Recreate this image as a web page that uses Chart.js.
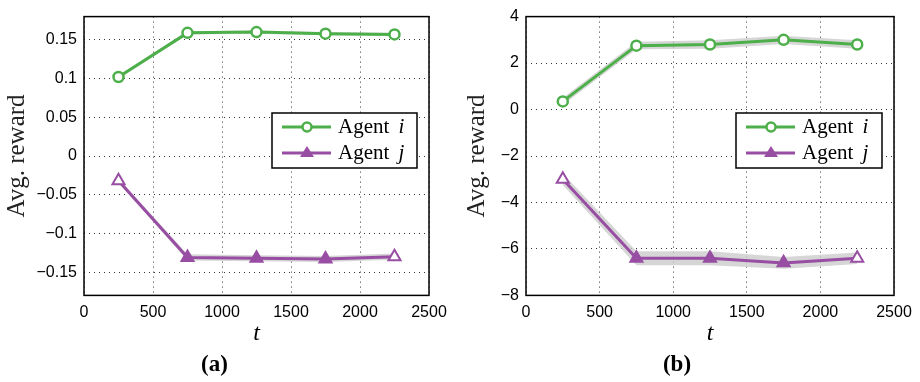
<!DOCTYPE html>
<html>
<head>
<meta charset="utf-8">
<script src="https://cdn.jsdelivr.net/npm/chart.js@4/dist/chart.umd.min.js"></script>
<style>
  body { margin: 0; background: #fff; }
  .wrap { display: flex; width: 920px; height: 382px; }
  .box { position: relative; width: 460px; height: 382px; }
</style>
</head>
<body>
<div class="wrap">
  <div class="box"><canvas id="chartA"></canvas></div>
  <div class="box"><canvas id="chartB"></canvas></div>
</div>
<script>
const xSteps = [250, 750, 1250, 1750, 2250];
const xTicks = [0, 500, 1000, 1500, 2000, 2500];

// panel (a)
const agentIA = [0.102, 0.159, 0.160, 0.158, 0.157];
const agentIALow = [0.100, 0.157, 0.158, 0.156, 0.155];
const agentIAHigh = [0.104, 0.161, 0.162, 0.160, 0.159];
const agentJA = [-0.032, -0.131, -0.132, -0.133, -0.130];
const agentJALow = [-0.035, -0.135, -0.136, -0.137, -0.134];
const agentJAHigh = [-0.029, -0.127, -0.128, -0.129, -0.126];
const yTicksA = [-0.15, -0.1, -0.05, 0, 0.05, 0.1, 0.15];

// panel (b)
const agentIB = [0.35, 2.75, 2.8, 3.0, 2.8];
const agentIBLow = [0.2, 2.6, 2.62, 2.82, 2.62];
const agentIBHigh = [0.5, 2.92, 2.98, 3.18, 2.98];
const agentJB = [-3.0, -6.4, -6.4, -6.6, -6.4];
const agentJBLow = [-3.25, -6.7, -6.7, -6.85, -6.65];
const agentJBHigh = [-2.75, -6.1, -6.1, -6.35, -6.15];
const yTicksB = [-8, -6, -4, -2, 0, 2, 4];

const green = "#4daf4a";
const purple = "#984ea3";
const band = "rgba(200,200,200,0.75)";
const serif = "'Liberation Serif', 'DejaVu Serif', serif";
const sans = "'Liberation Sans', Arial, sans-serif";

function pts(ys) {
  return ys.map((y, i) => ({ x: xSteps[i], y: y }));
}

function fmt(v) {
  return String(v).replace("-", "\u2212");
}

// frame round the plot area + in-plot legend
const framePlugin = {
  id: "frame",
  afterDraw(chart, args, opts) {
    const a = chart.chartArea;
    const ctx = chart.ctx;
    ctx.save();
    ctx.strokeStyle = "#000";
    ctx.lineWidth = 1.5;
    ctx.strokeRect(a.left, a.top, a.right - a.left, a.bottom - a.top);

    // legend
    const lx = opts.x, ly = opts.y, lw = opts.w, lh = opts.h;
    ctx.fillStyle = "#fff";
    ctx.fillRect(lx, ly, lw, lh);
    ctx.lineWidth = 1.5;
    ctx.strokeRect(lx, ly, lw, lh);
    const rows = [
      { color: green, style: "circle", name: "i" },
      { color: purple, style: "triangle", name: "j" },
    ];
    rows.forEach((r, k) => {
      const cy = ly + 14 + k * 26;
      ctx.strokeStyle = r.color;
      ctx.lineWidth = 3;
      ctx.beginPath();
      ctx.moveTo(lx + 10, cy);
      ctx.lineTo(lx + 59, cy);
      ctx.stroke();
      const mx = lx + 35;
      if (r.style === "circle") {
        ctx.fillStyle = "#fff";
        ctx.lineWidth = 2.5;
        ctx.beginPath();
        ctx.arc(mx, cy, 4.5, 0, Math.PI * 2);
        ctx.fill();
        ctx.stroke();
      } else {
        ctx.fillStyle = r.color;
        ctx.beginPath();
        ctx.moveTo(mx, cy - 7);
        ctx.lineTo(mx + 7, cy + 4);
        ctx.lineTo(mx - 7, cy + 4);
        ctx.closePath();
        ctx.fill();
      }
      ctx.fillStyle = "#000";
      ctx.textBaseline = "middle";
      ctx.textAlign = "left";
      ctx.font = "21px " + serif;
      ctx.fillText("Agent", lx + 66, cy);
      const w = ctx.measureText("Agent ").width;
      ctx.font = "italic 21px " + serif;
      ctx.fillText(r.name, lx + 66 + w + 4, cy);
    });
    ctx.restore();
  },
};

function makeChart(id, cfg) {
  const endBg = (c) => xSteps.map((x, i) => (i === 0 || i === xSteps.length - 1 ? "#fff" : c));
  new Chart(document.getElementById(id), {
    type: "line",
    data: {
      datasets: [
        { data: pts(cfg.iLow), borderWidth: 0, pointRadius: 0, fill: false, order: 2 },
        { data: pts(cfg.iHigh), borderWidth: 0, pointRadius: 0, fill: "-1", backgroundColor: band, order: 2 },
        { data: pts(cfg.jLow), borderWidth: 0, pointRadius: 0, fill: false, order: 2 },
        { data: pts(cfg.jHigh), borderWidth: 0, pointRadius: 0, fill: "-1", backgroundColor: band, order: 2 },
        {
          label: "Agent i",
          data: pts(cfg.i),
          order: 0,
          borderColor: green,
          borderWidth: 3,
          pointStyle: "circle",
          pointRadius: 5,
          pointBorderWidth: 2.5,
          pointBackgroundColor: "#fff",
          pointBorderColor: green,
        },
        {
          label: "Agent j",
          data: pts(cfg.j),
          order: 0,
          borderColor: purple,
          borderWidth: 3,
          pointStyle: "triangle",
          pointRadius: 7,
          pointBorderWidth: 2,
          pointBackgroundColor: endBg(purple),
          pointBorderColor: purple,
        },
      ],
    },
    options: {
      responsive: true,
      maintainAspectRatio: false,
      animation: false,
      layout: { padding: { left: 0, right: cfg.padRight, top: 9, bottom: 2 } },
      plugins: {
        legend: { display: false },
        tooltip: { enabled: false },
        title: {
          display: true,
          position: "bottom",
          text: cfg.title,
          color: "#000",
          font: { family: serif, size: 23, weight: "bold" },
          padding: { top: 0, bottom: 1 },
        },
        frame: cfg.legend,
      },
      scales: {
        x: {
          type: "linear",
          min: 0,
          max: 2500,
          afterBuildTicks: (s) => { s.ticks = xTicks.map((v) => ({ value: v })); },
          afterFit: (s) => { s.height = 56; },
          grid: { color: "#333", lineWidth: 1, drawTicks: false },
          border: { display: false, dash: [1, 4] },
          ticks: { color: "#000", padding: 8, font: { family: sans, size: 16 }, maxRotation: 0, callback: (v) => String(v) },
          title: {
            display: true,
            text: "t",
            color: "#000",
            font: { family: serif, size: 24, style: "italic" },
            padding: { top: 0, bottom: 3 },
          },
        },
        y: {
          min: cfg.yMin,
          max: cfg.yMax,
          afterBuildTicks: (s) => { s.ticks = cfg.yTicks.map((v) => ({ value: v })); },
          afterFit: (s) => { s.width = cfg.axisW; },
          grid: { color: "#333", lineWidth: 1, drawTicks: false },
          border: { display: false, dash: [1, 4] },
          ticks: { color: "#000", padding: 7, font: { family: sans, size: 16 }, callback: (v) => fmt(v) },
          title: {
            display: true,
            text: "Avg. reward",
            color: "#222",
            font: { family: serif, size: 25 },
            padding: { top: 2, bottom: 0 },
          },
        },
      },
    },
    plugins: [framePlugin],
  });
}

makeChart("chartA", {
  title: "(a)",
  i: agentIA, iLow: agentIALow, iHigh: agentIAHigh,
  j: agentJA, jLow: agentJALow, jHigh: agentJAHigh,
  yMin: -0.18, yMax: 0.18, yTicks: yTicksA,
  axisW: 84, padRight: 31,
  legend: { x: 272, y: 113, w: 145, h: 55 },
});

makeChart("chartB", {
  title: "(b)",
  i: agentIB, iLow: agentIBLow, iHigh: agentIBHigh,
  j: agentJB, jLow: agentJBLow, jHigh: agentJBHigh,
  yMin: -8, yMax: 4, yTicks: yTicksB,
  axisW: 66, padRight: 26,
  legend: { x: 276, y: 113, w: 146, h: 55 },
});
</script>
</body>
</html>
